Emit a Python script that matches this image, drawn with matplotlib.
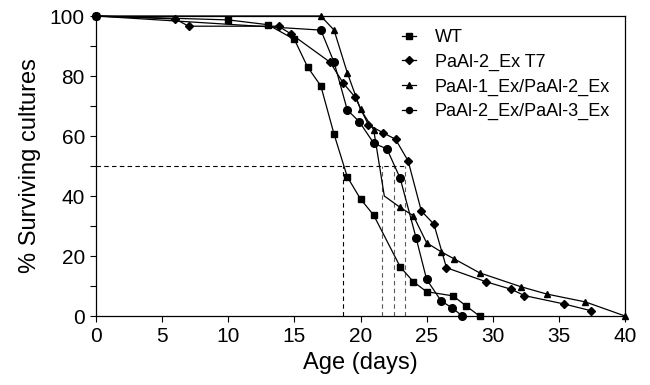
import matplotlib
matplotlib.use("Agg")
import matplotlib.pyplot as plt

plt.rcParams['font.family'] = ['Liberation Sans', 'DejaVu Sans']

# Data
wt_days = [0, 10, 13, 15, 16, 17, 18, 19, 20, 21, 23, 24, 25, 27, 28, 29]
wt_surv = [100, 98.7, 97.1, 92.2, 83, 76.7, 60.6, 46.4, 39, 33.6, 16.4, 11.4, 8.1, 6.7, 3.3, 0]

t7_days = [0, 6, 7, 13.8, 14.75, 17.7, 18.7, 19.6, 20.6, 21.7, 22.65, 23.6, 24.6, 25.55, 26.5,
           29.5, 31.4, 32.4, 35.4, 37.4]
t7_surv = [100, 99, 96.6, 96.6, 94, 84.6, 77.6, 72.9, 63.7, 61.1, 58.9, 51.7, 35, 30.6, 16.1,
           11.4, 8.9, 6.8, 4, 1.8]

a12_days = [0, 17, 18, 19, 20, 21, 21.8, 23, 24, 25, 26.1, 27.1, 29, 32.1, 34.1, 37, 40]
a12_surv = [100, 100, 95.3, 81.1, 68.9, 62, 40, 36.2, 33.4, 24.4, 21.4, 19, 14.4, 9.8, 7.3, 4.7, 0]

a23_days = [0, 17, 18, 19, 19.9, 21, 22, 23, 24.2, 25, 26.1, 26.9, 27.7]
a23_surv = [100, 95.3, 84.6, 68.7, 64.8, 57.6, 55.7, 45.9, 26.1, 12.2, 5, 2.8, 0]

labels = ["WT", "PaAl-2_Ex T7", "PaAl-1_Ex/PaAl-2_Ex", "PaAl-2_Ex/PaAl-3_Ex"]
half_life = [18.7, 21.6, 22.5, 23.4]

x_ticks = [0, 5, 10, 15, 20, 25, 30, 35, 40]
y_ticks = [0, 20, 40, 60, 80, 100]

fig = plt.figure(figsize=(6.5, 3.85), dpi=100)
ax = fig.add_axes([96/650, 1-316/385, (625-96)/650, (316-16)/385])

lw = 0.9
ax.plot(wt_days, wt_surv, '-s', color='black', lw=lw, ms=5, label=labels[0], clip_on=False, zorder=3)
ax.plot(t7_days, t7_surv, '-D', color='black', lw=lw, ms=4.5, label=labels[1], clip_on=False, zorder=3)
a12_marks = [i for i in range(len(a12_days)) if i != 6]
ax.plot(a12_days, a12_surv, '-^', color='black', lw=lw, ms=5, label=labels[2], clip_on=False,
        zorder=3, markevery=a12_marks)
ax.plot(a23_days, a23_surv, '-o', color='black', lw=lw, ms=5.5, label=labels[3], clip_on=False, zorder=3)

# 50% guide lines
ax.plot([0, max(half_life)], [50, 50], ls=(0, (4, 3)), color='black', lw=0.8, zorder=2)
for i, h in enumerate(half_life):
    ax.plot([h, h], [0, 50], ls=(0, (4, 3)), color='black' if i == 0 else '0.35', lw=0.8, zorder=2)

ax.set_xlim(0, 40)
ax.set_ylim(0, 100)
ax.set_xticks(x_ticks)
ax.set_yticks(y_ticks)
ax.set_yticks([10, 30, 50, 70, 90], minor=True)
ax.tick_params(axis='both', direction='out', length=4, width=0.8, labelsize=15, pad=4)
ax.tick_params(axis='y', which='minor', direction='out', length=4, width=0.8)
for s in ax.spines.values():
    s.set_linewidth(0.9)

ax.set_xlabel("Age (days)", fontsize=17, labelpad=4)
ax.set_ylabel("% Surviving cultures", fontsize=17, labelpad=6)

leg = ax.legend(loc='upper left', bbox_to_anchor=(402/650, 1-29/385), bbox_transform=fig.transFigure,
                frameon=False, fontsize=13, handlelength=0.8, handletextpad=1.0,
                labelspacing=0.42, borderpad=0, borderaxespad=0, markerscale=0.8)

fig.savefig("out.png", dpi=100)
